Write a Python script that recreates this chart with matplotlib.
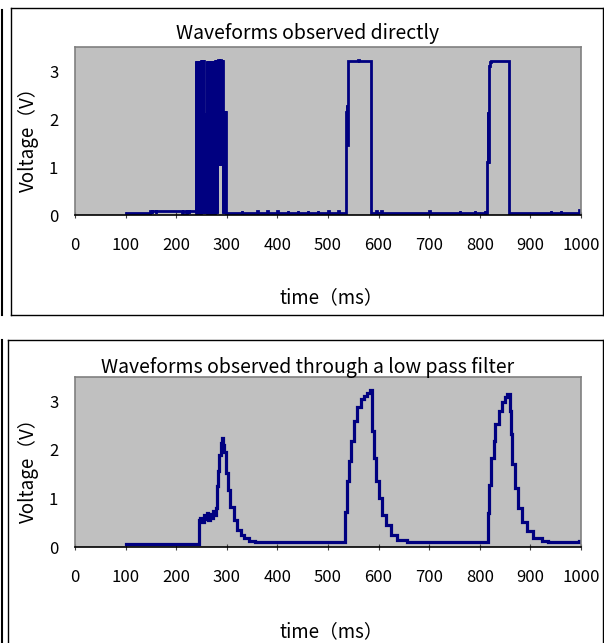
import matplotlib
matplotlib.use("Agg")
import matplotlib.pyplot as plt
from matplotlib.lines import Line2D

plt.rcParams['font.family'] = ['Noto Sans CJK JP', 'DejaVu Sans']

# ---------------- data ----------------
x_ticks = [0, 100, 200, 300, 400, 500, 600, 700, 800, 900, 1000]
y_ticks = [0, 1, 2, 3]

title_top = "Waveforms observed directly"
title_bottom = "Waveforms observed through a low pass filter"
xlabel = "time（ms）"
ylabel = "Voltage（V）"

# direct waveform (sample time ms, voltage V), drawn as steps
direct_t = [100, 148, 149, 152, 153, 160, 161, 212, 213, 220, 221, 225, 226,
            239, 240, 241, 242, 243, 244, 245, 246, 247, 248, 249, 250, 251, 252, 253, 254,
            255, 256, 257, 258, 259,
            260, 261, 262, 263, 264, 265, 266, 267, 268, 269, 270, 271, 272,
            273, 274, 275, 276,
            277, 278, 279, 280, 281, 282, 283, 284, 285, 286, 287, 288, 289, 290, 291,
            292, 293, 294, 295, 296, 297, 298, 299,
            330, 331, 360, 361, 380, 381, 400, 401, 420, 421, 440, 441, 460, 461,
            480, 481, 500, 501, 520, 521,
            536, 536.5, 537, 537.5, 538, 539, 560, 561, 585,
            595, 596, 605, 606, 700, 701, 760, 761, 790, 791, 810, 811,
            815, 815.5, 816, 816.5, 817, 818, 820, 822, 858,
            940, 941, 960, 961, 997, 1000]
direct_v = [0.05, 0.05, 0.09, 0.05, 0.09, 0.05, 0.09, 0.05, 0.09, 0.05, 0.09, 0.05, 0.09,
            3.2, 0.05, 3.2, 0.05, 3.2, 0.05, 3.2, 0.05, 3.2, 0.05, 3.2, 0.05, 3.2, 0.05, 3.2, 0.05,
            2.0, 0.05, 2.05, 0.05, 2.1,
            3.2, 0.05, 3.2, 0.05, 3.2, 0.05, 3.2, 0.05, 3.2, 0.05, 3.2, 0.05, 3.2,
            0.05, 1.82, 0.05, 1.82,
            3.2, 0.05, 3.2, 0.05, 3.2, 1.05, 3.22, 1.05, 3.2, 1.05, 3.22, 1.05, 3.2, 1.05, 3.2,
            0.05, 2.15, 0.05, 2.15, 0.05, 2.15, 0.05, 0.05,
            0.09, 0.05, 0.09, 0.05, 0.09, 0.05, 0.09, 0.05, 0.09, 0.05, 0.09, 0.05, 0.09, 0.05,
            0.09, 0.05, 0.09, 0.05, 0.09, 0.05,
            1.45, 2.15, 1.45, 2.3, 1.45, 3.2, 3.22, 3.2, 0.05,
            0.09, 0.05, 0.09, 0.05, 0.09, 0.05, 0.09, 0.05, 0.09, 0.05, 0.09, 0.05,
            1.1, 2.15, 1.1, 2.15, 1.1, 3.1, 3.18, 3.2, 0.05,
            0.09, 0.05, 0.09, 0.05, 0.1, 0.1]

# low-pass filtered waveform
filtered_t = [100, 245, 246, 248, 251, 254, 257, 260, 263, 266, 269, 272, 275, 278,
              280, 282, 285, 288, 291, 293, 295, 298, 302, 307, 314, 320, 328, 334, 344, 355,
              400, 440, 480, 520, 533,
              534, 537, 541, 546, 551, 558, 565, 571, 578, 583, 587, 590, 595, 600, 607, 614,
              624, 637, 657, 700, 750, 790, 816,
              817, 819, 823, 828, 831, 837, 844, 850, 854, 859, 861, 864, 870, 876, 883, 893,
              906, 922, 935, 970, 997, 1000]
filtered_v = [0.07, 0.07, 0.55, 0.6, 0.52, 0.65, 0.58, 0.7, 0.55, 0.68, 0.6, 0.75, 0.65, 0.8,
              1.25, 1.56, 1.9, 2.15, 2.25, 2.1, 1.95, 1.53, 1.18, 0.83, 0.56, 0.35, 0.25, 0.19, 0.12, 0.1,
              0.1, 0.1, 0.1, 0.1, 0.1,
              0.73, 1.35, 1.77, 2.18, 2.59, 2.88, 3.04, 3.11, 3.18, 3.24, 2.39, 1.84, 1.35, 1.01, 0.66, 0.45,
              0.25, 0.14, 0.1, 0.1, 0.1, 0.1, 0.1,
              0.7, 1.28, 1.84, 2.18, 2.53, 2.8, 2.98, 3.08, 3.15, 2.8, 2.32, 1.7, 1.22, 0.8, 0.52, 0.32,
              0.18, 0.12, 0.1, 0.1, 0.13, 0.13]

# ---------------- figure ----------------
W, H = 604, 643
fig = plt.figure(figsize=(W / 100, H / 100), dpi=100)

def fx(px):
    return px / W

def fy(py):
    return 1 - py / H

line_color = '#000080'
gray_bg = '#C0C0C0'
font_tick = 12
font_label = 13.5
font_title = 14

def make_panel(top_px, bottom_px, t, v, title, title_y, xlabel_y, lw):
    left_px, right_px = 75, 581
    ax = fig.add_axes([fx(left_px), fy(bottom_px), (right_px - left_px) / W,
                       (bottom_px - top_px) / H])
    ax.set_facecolor(gray_bg)
    ax.plot(t, v, color=line_color, lw=lw, drawstyle='steps-post',
            solid_joinstyle='miter')
    ax.set_xlim(0, 1000)
    ax.set_ylim(0, 3.5)
    ax.set_xticks(x_ticks)
    ax.set_yticks(y_ticks)
    ax.set_xticklabels([str(x) for x in x_ticks], fontsize=font_tick)
    ax.set_yticklabels([str(y) for y in y_ticks], fontsize=font_tick)
    ax.tick_params(axis='x', direction='inout', length=5, width=0.8, pad=13,
                   color='#404040')
    ax.tick_params(axis='y', length=0, pad=12)
    for s in ['top', 'right', 'left']:
        ax.spines[s].set_color('#808080')
        ax.spines[s].set_linewidth(1.2)
    ax.spines['bottom'].set_color('#000000')
    ax.spines['bottom'].set_linewidth(1.2)
    fig.text(fx(308), fy(title_y), title, ha='center', va='center', fontsize=font_title)
    fig.text(fx(331), fy(xlabel_y), xlabel, ha='center', va='center', fontsize=font_label)
    fig.text(fx(28), fy((top_px + bottom_px) / 2 + 4), ylabel, ha='center', va='center',
             rotation=90, fontsize=font_label)
    return ax

make_panel(47, 215, direct_t, direct_v, title_top, 33, 298, 2.0)
make_panel(377, 547, filtered_t, filtered_v, title_bottom, 367, 632, 2.3)

# outer chart frames
def frame_line(x0, y0, x1, y1, lw=1.0):
    fig.add_artist(Line2D([fx(x0), fx(x1)], [fy(y0), fy(y1)], color='black', lw=lw,
                          transform=fig.transFigure))

# top frame
frame_line(11, 7.5, 603, 7.5)
frame_line(11, 315, 603, 315)
frame_line(11, 7.5, 11, 315)
frame_line(603, 7.5, 603, 315)
# bottom frame
frame_line(8, 339.5, 603, 339.5)
frame_line(8, 339.5, 8, 643)
frame_line(603, 339.5, 603, 643)
# edges of neighbouring frames at the far left
frame_line(1.5, 10, 1.5, 315, lw=1.5)
frame_line(1.5, 340, 1.5, 643, lw=1.5)

fig.savefig('out.png', dpi=100)
